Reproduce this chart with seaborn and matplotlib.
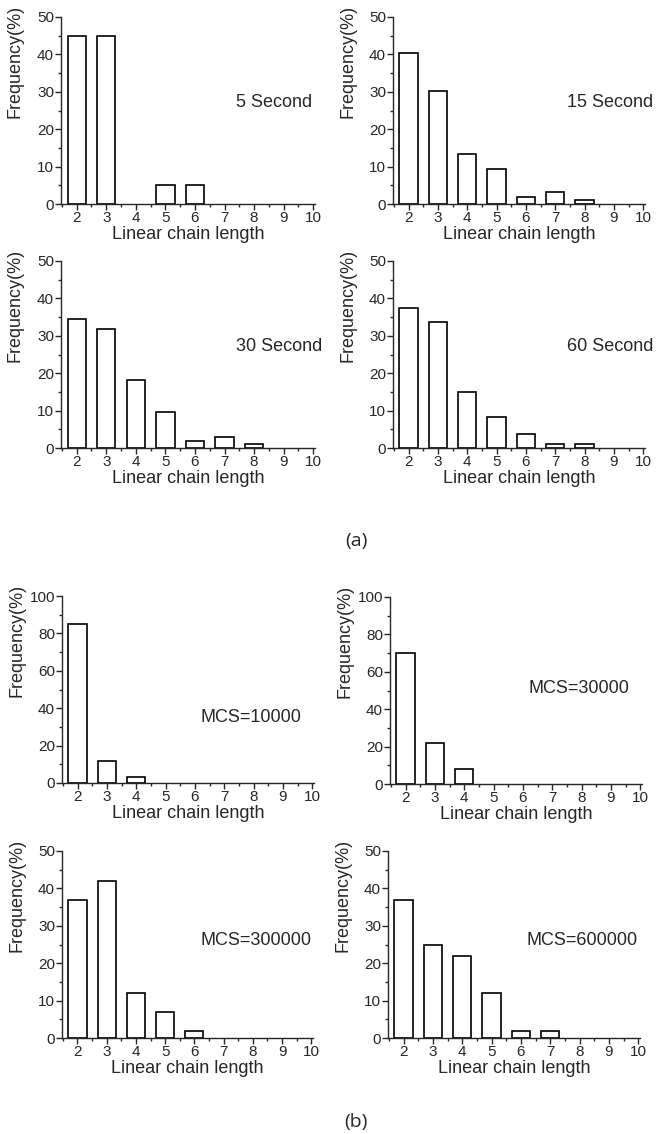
import numpy as np
import pandas as pd
import matplotlib
matplotlib.use("Agg")
import matplotlib.pyplot as plt
import seaborn as sns
from matplotlib.ticker import MultipleLocator

# chain lengths on the x axis
lengths = [2, 3, 4, 5, 6, 7, 8, 9, 10]

# (a) experiment, frequency (%) per chain length
sec5 = [45, 45, 0, 5, 5, 0, 0, 0, 0]
sec15 = [40.5, 30.2, 13.5, 9.3, 2.0, 3.1, 1.0, 0, 0]
sec30 = [34.6, 31.7, 18.3, 9.7, 2.0, 2.9, 1.0, 0, 0]
sec60 = [37.4, 33.7, 15.0, 8.4, 3.8, 1.0, 1.0, 0, 0]

# (b) simulation
mcs10000 = [85, 12, 3, 0, 0, 0, 0, 0, 0]
mcs30000 = [70, 22, 8, 0, 0, 0, 0, 0, 0]
mcs300000 = [37, 42, 12, 7, 2, 0, 0, 0, 0]
mcs600000 = [37, 25, 22, 12, 2, 2, 0, 0, 0]

panel_labels = ["5 Second", "15 Second", "30 Second", "60 Second",
                "MCS=10000", "MCS=30000", "MCS=300000", "MCS=600000"]
panel_data = [sec5, sec15, sec30, sec60, mcs10000, mcs30000, mcs300000, mcs600000]
panel_ymax = [50, 50, 50, 50, 100, 100, 50, 50]

sns.set_style("ticks")
plt.rcParams['font.family'] = ['Liberation Sans', 'DejaVu Sans']

W, H = 669, 1134
fig = plt.figure(figsize=(W / 100, H / 100), dpi=100)

# axes boxes in pixels: left, right, top, bottom
boxes = [(61, 315, 17, 204), (393, 645, 17, 204),
         (61, 315, 261, 448), (393, 645, 261, 448),
         (62, 314, 596, 783), (390, 642, 597, 784),
         (62, 313, 851, 1038), (388, 640, 851, 1038)]
text_pos = [(0.69, 0.545)] * 4 + [(0.55, 0.35), (0.55, 0.51), (0.55, 0.52), (0.55, 0.52)]

for i in range(8):
    l, r, t, b = boxes[i]
    ax = fig.add_axes([l / W, 1 - b / H, (r - l) / W, (b - t) / H])
    df = pd.DataFrame({"length": lengths, "freq": panel_data[i]})
    df = df[df["freq"] > 0]
    sns.barplot(data=df, x="length", y="freq", native_scale=True, color="white",
                saturation=1, edgecolor="black", linewidth=1.2, width=0.62, ax=ax)
    ymax = panel_ymax[i]
    ax.set_ylim(0, ymax)
    ax.set_xlim(1.47, 10.06)
    ax.set_xticks(lengths)
    ax.set_xticklabels([str(v) for v in lengths])
    ax.xaxis.set_minor_locator(MultipleLocator(0.5))
    ax.yaxis.set_major_locator(MultipleLocator(ymax / 5))
    ax.yaxis.set_minor_locator(MultipleLocator(ymax / 10))
    ax.tick_params(axis="both", which="major", length=4, width=1, labelsize=11, pad=1)
    ax.tick_params(axis="both", which="minor", length=2.5, width=1)
    sns.despine(ax=ax)
    for s in ["left", "bottom"]:
        ax.spines[s].set_linewidth(1.0)
    ax.set_xlabel("Linear chain length", fontsize=13)
    ax.xaxis.set_label_coords(0.5, -0.115)
    ax.set_ylabel("Frequency(%)", fontsize=13)
    ax.yaxis.set_label_coords(-0.146, 0.76)
    tx, ty = text_pos[i]
    ax.text(tx, ty, panel_labels[i], transform=ax.transAxes, fontsize=13,
            ha="left", va="center")

fig.text(356 / W, 1 - 541 / H, "(a)", fontsize=14, ha="center", va="center",
         family=["Open Sans", "DejaVu Sans"])
fig.text(356 / W, 1 - 1122 / H, "(b)", fontsize=14, ha="center", va="center",
         family=["Open Sans", "DejaVu Sans"])

fig.savefig("out.png", dpi=100, facecolor="white")
